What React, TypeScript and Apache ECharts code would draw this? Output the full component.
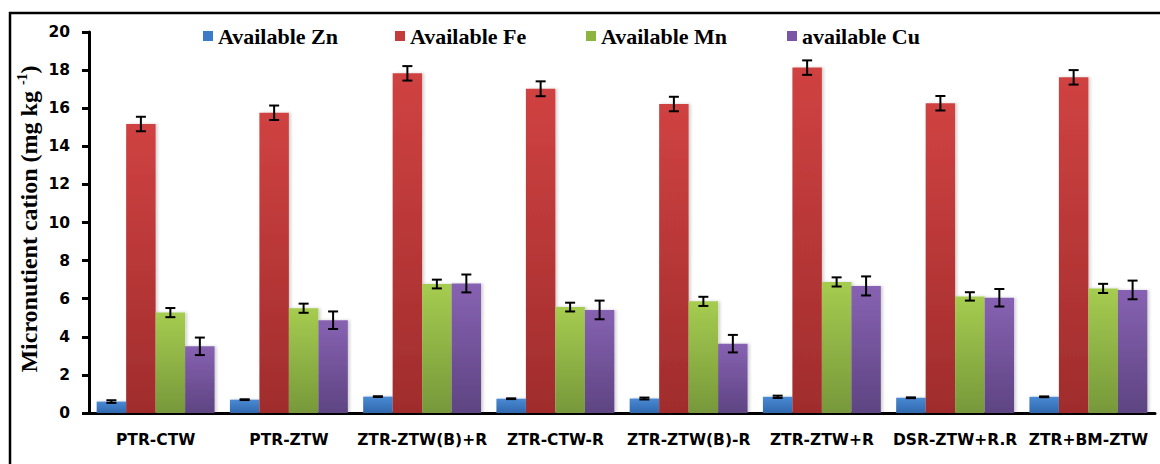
import React, { useEffect, useRef } from "react";
import * as echarts from "echarts";

const categories = ["PTR-CTW", "PTR-ZTW", "ZTR-ZTW(B)+R", "ZTR-CTW-R", "ZTR-ZTW(B)-R", "ZTR-ZTW+R", "DSR-ZTW+R.R", "ZTR+BM-ZTW"];
const seriesNames = ["Available Zn", "Available Fe", "Available Mn", "available Cu"];
const zn = [0.6, 0.7, 0.86, 0.75, 0.76, 0.85, 0.8, 0.85];
const znErr = [0.07, 0.02, 0.02, 0.02, 0.05, 0.06, 0.02, 0.02];
const fe = [15.17, 15.76, 17.83, 17.02, 16.22, 18.13, 16.26, 17.62];
const feErr = [0.38, 0.38, 0.38, 0.39, 0.38, 0.38, 0.38, 0.38];
const mn = [5.27, 5.5, 6.77, 5.56, 5.86, 6.88, 6.12, 6.54];
const mnErr = [0.24, 0.24, 0.23, 0.23, 0.24, 0.24, 0.22, 0.24];
const cu = [3.5, 4.87, 6.8, 5.41, 3.64, 6.67, 6.05, 6.46];
const cuErr = [0.46, 0.46, 0.47, 0.49, 0.46, 0.5, 0.46, 0.49];
const yTicks = { min: 0, max: 20, interval: 2 };

const values = [zn, fe, mn, cu];
const errors = [znErr, feErr, mnErr, cuErr];
const gradients = [
  ["#4a8ad4", "#2f68ae"],
  ["#d04242", "#a02c2c"],
  ["#a6cc50", "#77983a"],
  ["#8762b2", "#5e4482"],
];
const legendColors = ["#3b7bc8", "#c33b3b", "#8db43e", "#7a55a5"];
const legendLefts = [198, 390, 581, 782];
const GAP = 0.115;

export default function App() {
  const ref = useRef<HTMLDivElement>(null);
  useEffect(() => {
    const chart = echarts.init(ref.current!, null, { renderer: "svg" });
    const barSeries = seriesNames.map((name, i) => ({
      name,
      type: "bar",
      data: values[i],
      barGap: "0%",
      barCategoryGap: (GAP * 100) + "%",
      itemStyle: {
        color: new echarts.graphic.LinearGradient(0, 0, 0, 1, [
          { offset: 0, color: gradients[i][0] },
          { offset: 1, color: gradients[i][1] },
        ]),
        shadowColor: "rgba(0,0,0,0.18)",
        shadowBlur: 3,
        shadowOffsetX: 2,
      },
      emphasis: { disabled: true },
      z: 2,
    }));
    const errSeries = seriesNames.map((name, si) => ({
      name: name + " err",
      type: "custom",
      z: 5,
      encode: { x: 0, y: 1 },
      data: values[si].map((v, ci) => [ci, v, errors[si][ci]]),
      renderItem: (params: any, api: any) => {
        const ci = api.value(0);
        const v = api.value(1);
        const e = api.value(2);
        const band = api.size([1, 0])[0];
        const bw = (band * (1 - GAP)) / 4;
        const c = api.coord([ci, v]);
        const x = c[0] + (si - 1.5) * bw;
        const hi = api.coord([ci, v + e])[1];
        const lo = api.coord([ci, v - e])[1];
        const st = { stroke: "#000", lineWidth: 2 };
        const cap = 5;
        return {
          type: "group",
          children: [
            { type: "line", shape: { x1: x, y1: hi, x2: x, y2: lo }, style: st },
            { type: "line", shape: { x1: x - cap, y1: hi, x2: x + cap, y2: hi }, style: st },
            { type: "line", shape: { x1: x - cap, y1: lo, x2: x + cap, y2: lo }, style: st },
          ],
        };
      },
    }));
    chart.setOption({
      animation: false,
      color: legendColors,
      legend: seriesNames.map((n, i) => ({
        data: [{ name: n, itemStyle: { color: legendColors[i] } }],
        left: legendLefts[i],
        top: 20,
        icon: "rect",
        itemWidth: 10,
        itemHeight: 10,
        selectedMode: false,
        textStyle: { fontFamily: "Liberation Serif", fontWeight: "bold", fontSize: 22, color: "#000" },
      })),
      grid: { left: 89, right: 5, top: 32, bottom: 51, containLabel: false },
      xAxis: {
        type: "category",
        data: categories,
        axisLine: { lineStyle: { color: "#000", width: 3 } },
        axisTick: { length: 7, lineStyle: { color: "#000", width: 3 } },
        axisLabel: { margin: 19, fontFamily: "DejaVu Sans", fontWeight: "bold", fontSize: 15.5, color: "#000", interval: 0 },
      },
      yAxis: {
        type: "value",
        min: yTicks.min,
        max: yTicks.max,
        interval: yTicks.interval,
        splitLine: { show: false },
        axisLine: { show: true, lineStyle: { color: "#000", width: 3 } },
        axisTick: { show: true, length: 7, lineStyle: { color: "#000", width: 3 } },
        axisLabel: { margin: 19, fontFamily: "DejaVu Sans", fontWeight: "bold", fontSize: 15.5, color: "#000" },
      },
      graphic: [
        {
          type: "rect",
          shape: { x: 10, y: 13, width: 1300, height: 600 },
          style: { fill: "none", stroke: "#000", lineWidth: 2.5 },
          silent: true,
          z: 0,
        },
        {
          type: "text",
          x: 29,
          y: 219,
          rotation: Math.PI / 2,
          style: {
            text: "{a|Micronutient cation (mg kg }{b|-1}{a|)}",
            align: "center",
            verticalAlign: "middle",
            rich: {
              a: { fontFamily: "Liberation Serif", fontWeight: "bold", fontSize: 24, fill: "#000", lineHeight: 28 },
              b: { fontFamily: "Liberation Serif", fontWeight: "bold", fontSize: 14, fill: "#000", verticalAlign: "top", lineHeight: 28, padding: [0, 0, 10, 0] },
            },
          },
        },
      ],
      series: [...barSeries, ...errSeries],
    });
    return () => chart.dispose();
  }, []);
  return <div ref={ref} style={{ position: "fixed", left: 0, top: 0, width: 1160, height: 464, background: "#fff" }} />;
}
